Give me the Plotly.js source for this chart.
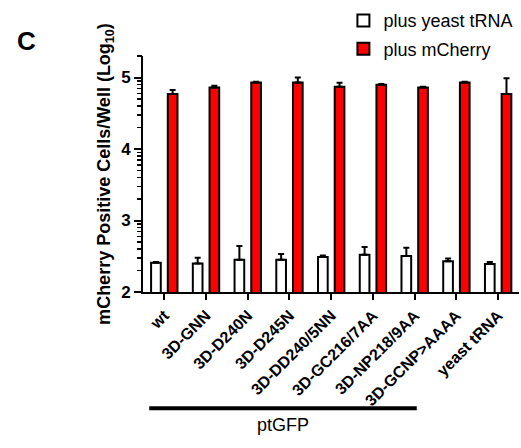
<!DOCTYPE html>
<html>
<head>
<meta charset="utf-8">
<script src="https://cdn.plot.ly/plotly-3.0.1.min.js"></script>
<style>html,body{margin:0;padding:0;background:#fff;}#chart{width:521px;height:448px;}</style>
</head>
<body>
<div id="chart"></div>
<script>
// Data (log10 of mCherry positive cells per well)
const categories = ['wt','3D-GNN','3D-D240N','3D-D245N','3D-DD240/5NN','3D-GC216/7AA','3D-NP218/9AA','3D-GCNP>AAAA','yeast tRNA'];
const yeastMean = [2.41, 2.40, 2.45, 2.45, 2.49, 2.52, 2.505, 2.43, 2.39];
const yeastErr  = [0.01, 0.08, 0.195, 0.08, 0.02, 0.11, 0.115, 0.04, 0.03];
const cherryMean = [4.77, 4.86, 4.93, 4.93, 4.87, 4.90, 4.86, 4.93, 4.77];
const cherryErr  = [0.057, 0.025, 0.01, 0.07, 0.057, 0.01, 0.012, 0.01, 0.22];
const yTickVals = [2, 3, 4, 5];
const yTickText = ['2', '3', '4', '5'];
const seriesNames = ['plus yeast tRNA', 'plus mCherry'];
const groupLabel = 'ptGFP';
const panelLabel = 'C';

const FONT = 'Liberation Sans, Arial, sans-serif';
const zeros = categories.map(() => 0);
const YRANGE = [2, 5.301];

// minor tick positions of the log-decade axis (axis decoration)
const minorVals = [];
for (let d = 2; d <= 5; d++) {
  for (let k = 2; k <= 9; k++) {
    const v = d + Math.log10(k);
    if (v <= 5.302) minorVals.push(v);
  }
}

const traces = [
  {
    type: 'bar', name: seriesNames[0], x: categories, y: yeastMean, legendgroup: 'a',
    marker: {color: '#ffffff', line: {color: '#000000', width: 2}},
    error_y: {type: 'data', symmetric: false, array: yeastErr, arrayminus: zeros,
              color: '#000000', thickness: 2, width: 3}
  },
  {
    type: 'bar', name: seriesNames[1], x: categories, y: cherryMean, legendgroup: 'b',
    marker: {color: '#ff0000', line: {color: '#000000', width: 2}},
    error_y: {type: 'data', symmetric: false, array: cherryErr, arrayminus: zeros,
              color: '#000000', thickness: 2, width: 3}
  },
  // invisible helper so the minor-tick axis gets drawn
  {
    type: 'scatter', mode: 'markers', x: [categories[0]], y: [YRANGE[0]], yaxis: 'y2',
    marker: {opacity: 0, size: 1}, showlegend: false, hoverinfo: 'skip'
  }
];

const layout = {
  width: 521, height: 448,
  margin: {l: 143, r: 2, t: 42, b: 156},
  paper_bgcolor: '#ffffff', plot_bgcolor: '#ffffff',
  barmode: 'group', bargap: 0.2, bargroupgap: 0.42,
  font: {family: FONT, color: '#000000'},
  showlegend: true,
  legend: {x: 0.533, xanchor: 'left', y: 1.228, yanchor: 'top', traceorder: 'grouped',
           tracegroupgap: 2,
           font: {family: FONT, size: 18, color: '#000'}, bgcolor: 'rgba(0,0,0,0)'},
  xaxis: {
    type: 'category', range: [-0.51, 8.5],
    showline: true, linecolor: '#000', linewidth: 2,
    ticks: 'outside', ticklen: 6, tickwidth: 2, tickcolor: '#000',
    tickangle: -45, tickfont: {family: FONT, size: 16, weight: 'bold', color: '#000'},
    showgrid: false, zeroline: false, fixedrange: true
  },
  yaxis: {
    range: YRANGE,
    showline: true, linecolor: '#000', linewidth: 2,
    tickmode: 'array', tickvals: yTickVals, ticktext: yTickText,
    ticks: 'outside', ticklen: 7, tickwidth: 2, tickcolor: '#000',
    tickfont: {family: FONT, size: 17, weight: 'bold', color: '#000'},
    showgrid: false, zeroline: false,
    title: {text: 'mCherry Positive Cells/Well (Log<sub>10</sub>)', standoff: 6,
            font: {family: FONT, size: 18, weight: 'bold', color: '#000'}}
  },
  yaxis2: {
    overlaying: 'y', side: 'left', range: YRANGE,
    tickmode: 'array', tickvals: minorVals, showticklabels: false,
    ticks: 'outside', ticklen: 5, tickwidth: 1.5, tickcolor: '#000000',
    showline: false, showgrid: false, zeroline: false
  },
  shapes: [
    {type: 'line', xref: 'x', yref: 'paper', x0: -0.36, x1: 6.05, y0: -0.493, y1: -0.493,
     line: {color: '#000', width: 4}}
  ],
  annotations: [
    {text: groupLabel, xref: 'x', yref: 'paper', x: 2.85, y: -0.565, showarrow: false,
     xanchor: 'center', yanchor: 'middle', font: {family: FONT, size: 18, color: '#000'}},
    {text: panelLabel, xref: 'paper', yref: 'paper', x: -0.311, y: 1.063, showarrow: false,
     xanchor: 'center', yanchor: 'middle', font: {family: FONT, size: 26, weight: 'bold', color: '#000'}}
  ]
};

Plotly.newPlot('chart', traces, layout, {displayModeBar: false, staticPlot: true});
</script>
</body>
</html>
